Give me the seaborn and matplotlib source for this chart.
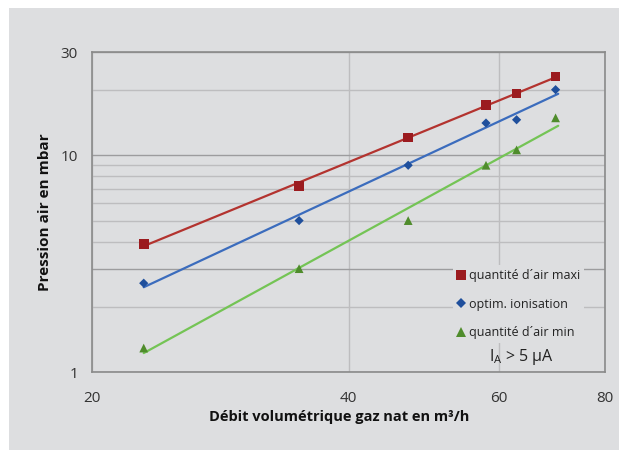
import numpy as np
import pandas as pd
import seaborn as sns
import matplotlib.pyplot as plt
from matplotlib.lines import Line2D
from matplotlib.patches import Rectangle
from matplotlib.ticker import FixedLocator, NullFormatter

# data
flow = [23, 35, 47, 58, 63, 70]
p_maxi = [3.9, 7.2, 12.1, 17.1, 19.3, 23.1]
p_ionis = [2.57, 5.0, 9.0, 14.1, 14.6, 20.1]
p_mini = [1.29, 3.0, 5.0, 9.0, 10.6, 14.9]

series = ["quantité d´air maxi", "optim. ionisation", "quantité d´air min"]
marker_col = ["#9b1b1f", "#1f4f9c", "#4f8c2c"]
line_col = ["#b3332f", "#3b6cbd", "#74c455"]
markers = ["s", "D", "^"]
msize = [48, 22, 40]

xticks = [20, 40, 60, 80]
yticks = [1, 3, 10, 30]
ytick_labels = ["1", "", "10", "30"]
y_minor = [2, 4, 5, 6, 7, 8, 9, 20]

BG = "#dddee0"

sns.set_style("white")
plt.rcParams['font.family'] = ['Open Sans', 'DejaVu Sans']

df = pd.DataFrame({
    "flow": flow * 3,
    "p": p_maxi + p_ionis + p_mini,
    "serie": [s for s in series for _ in flow],
})

fig = plt.figure(figsize=(6.19, 4.5), dpi=100)
fig.patch.set_facecolor("white")
fig.patches.append(Rectangle((9 / 619, 0), 1, 442 / 450, transform=fig.transFigure,
                             facecolor=BG, edgecolor="none", zorder=-10))

ax = fig.add_axes([92 / 619, 78 / 450, 513 / 619, 320 / 450])
ax.set_facecolor(BG)
ax.set_xscale("log")
ax.set_yscale("log")
ax.set_xlim(20, 80)
ax.set_ylim(1, 30)

# power-law trend lines (straight in log-log)
fits = []
for s in series:
    sub = df[df.serie == s]
    k, b = np.polyfit(np.log(sub.flow), np.log(sub.p), 1)
    xs = np.array([min(flow), max(flow) + 0.5])
    fits.append(pd.DataFrame({"flow": xs, "p": np.exp(b) * xs ** k, "serie": s}))
fit_df = pd.concat(fits)

sns.lineplot(data=fit_df, x="flow", y="p", hue="serie", palette=dict(zip(series, line_col)),
             linewidth=1.6, legend=False, ax=ax, zorder=3)
for s, c, m, sz in zip(series, marker_col, markers, msize):
    sns.scatterplot(data=df[df.serie == s], x="flow", y="p", color=c, marker=m, s=sz,
                    edgecolor="none", legend=False, ax=ax, zorder=4)

# ticks and grid
ax.xaxis.set_major_locator(FixedLocator(xticks))
ax.xaxis.set_minor_locator(FixedLocator([]))
ax.set_xticklabels([str(v) for v in xticks])
ax.yaxis.set_major_locator(FixedLocator(yticks))
ax.set_yticklabels(ytick_labels)
ax.yaxis.set_minor_locator(FixedLocator(y_minor))
ax.yaxis.set_minor_formatter(NullFormatter())

ax.tick_params(axis="both", which="major", labelsize=11, colors="#8a8a8a",
               labelcolor="#333333", length=4, width=1, direction="out")
ax.tick_params(axis="x", which="major", pad=10)
ax.tick_params(axis="y", which="major", pad=6)
ax.tick_params(axis="y", which="minor", length=0)
ax.yaxis.get_major_ticks()[1].tick1line.set_visible(False)
ax.yaxis.get_major_ticks()[3].tick1line.set_visible(False)
ax.xaxis.get_major_ticks()[0].tick1line.set_visible(False)

ax.grid(True, axis="y", which="major", color="#9c9c9e", linewidth=1.0)
ax.grid(True, axis="y", which="minor", color="#bdbdbf", linewidth=1.0)
ax.grid(True, axis="x", which="major", color="#bdbdbf", linewidth=1.0)
ax.set_axisbelow(True)
for sp in ax.spines.values():
    sp.set_color("#8a8a8a")
    sp.set_linewidth(1.2)

ax.set_xlabel("Débit volumétrique gaz nat en m³/h", fontsize=10.5, fontweight="bold",
              color="#111111")
ax.xaxis.set_label_coords(0.482, -0.12)
ax.set_ylabel("Pression air en mbar", fontsize=11, fontweight="bold", labelpad=6,
              color="#111111")

handles = [Line2D([], [], linestyle="none", marker=m, color=c, markersize=ms, markeredgewidth=0)
           for m, c, ms in zip(markers, marker_col, [7, 5, 6.5])]
leg = ax.legend(handles, series, loc="lower right", bbox_to_anchor=(0.96, 0.09),
                frameon=True, fontsize=9, labelspacing=1.25, handlelength=0.6,
                handletextpad=0.4, borderpad=0.3, borderaxespad=0)
leg.get_frame().set_facecolor(BG)
leg.get_frame().set_edgecolor("none")
leg.get_frame().set_alpha(1)
for t in leg.get_texts():
    t.set_color("#222222")

ax.text(0.838, 0.047, r"I$_\mathregular{A}$ > 5 µA", transform=ax.transAxes,
        ha="center", va="center", fontsize=11.5, color="#222222")

fig.savefig("out.png", dpi=100, facecolor=fig.get_facecolor())
